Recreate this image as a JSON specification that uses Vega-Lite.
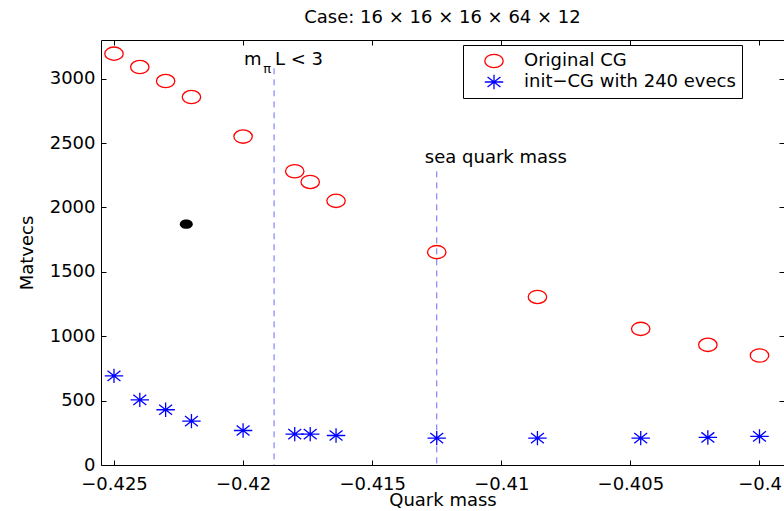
{
  "$schema": "https://vega.github.io/schema/vega-lite/v6.json",
  "width": 683,
  "height": 425,
  "autosize": {"type": "none"},
  "padding": {"left": 101, "top": 40, "right": 0, "bottom": 46},
  "title": {"text": "Case: 16 × 16 × 16 × 64 × 12", "fontSize": 18, "fontWeight": "normal", "baseline": "alphabetic", "offset": -1, "anchor": "middle", "font": "DejaVu Sans", "color": "#000"},
  "config": {
    "font": "DejaVu Sans",
    "view": {"stroke": null},
    "axis": {"grid": false, "domainColor": "#000", "tickColor": "#000", "labelColor": "#000", "titleColor": "#000", "labelFontSize": 18, "titleFontSize": 18, "titleFontWeight": "normal", "labelFont": "DejaVu Sans", "titleFont": "DejaVu Sans", "tickWidth": 1, "domainWidth": 1},
    "legend": {"orient": "none", "legendX": 362, "legendY": 5, "padding": 6, "strokeColor": "#000", "fillColor": "#fff", "cornerRadius": 0, "labelFontSize": 18, "labelFont": "DejaVu Sans", "labelColor": "#000", "labelLimit": 400, "symbolSize": 340, "symbolStrokeWidth": 1.3, "symbolOffset": 15, "labelOffset": 20, "rowPadding": 1}
  },
  "resolve": {"axis": {"x": "independent", "y": "independent"}},
  "layer": [
    {
      "data": {"values": [{"mass": -0.4188, "top": 3080}, {"mass": -0.4125, "top": 2280}]},
      "mark": {"type": "rule", "strokeDash": [6, 5], "color": "#6b6bff", "strokeWidth": 1},
      "encoding": {
        "x": {"field": "mass", "type": "quantitative", "scale": {"domain": [-0.425503, -0.399051], "nice": false, "zero": false}, "axis": null},
        "y": {"field": "top", "type": "quantitative", "scale": {"domain": [0, 3300], "nice": false}, "axis": null},
        "y2": {"datum": 0}
      }
    },
    {
      "data": {"values": [
        {"series": "Original CG", "mass": -0.425, "matvecs": 3194},
        {"series": "Original CG", "mass": -0.424, "matvecs": 3090},
        {"series": "Original CG", "mass": -0.423, "matvecs": 2981},
        {"series": "Original CG", "mass": -0.422, "matvecs": 2857},
        {"series": "Original CG", "mass": -0.42, "matvecs": 2550},
        {"series": "Original CG", "mass": -0.418, "matvecs": 2281},
        {"series": "Original CG", "mass": -0.4174, "matvecs": 2198},
        {"series": "Original CG", "mass": -0.4164, "matvecs": 2051},
        {"series": "Original CG", "mass": -0.4125, "matvecs": 1653},
        {"series": "Original CG", "mass": -0.4086, "matvecs": 1305},
        {"series": "Original CG", "mass": -0.4046, "matvecs": 1057},
        {"series": "Original CG", "mass": -0.402, "matvecs": 933},
        {"series": "Original CG", "mass": -0.4, "matvecs": 850},
        {"series": "init−CG with 240 evecs", "mass": -0.425, "matvecs": 692},
        {"series": "init−CG with 240 evecs", "mass": -0.424, "matvecs": 506},
        {"series": "init−CG with 240 evecs", "mass": -0.423, "matvecs": 429},
        {"series": "init−CG with 240 evecs", "mass": -0.422, "matvecs": 341},
        {"series": "init−CG with 240 evecs", "mass": -0.42, "matvecs": 268},
        {"series": "init−CG with 240 evecs", "mass": -0.418, "matvecs": 240},
        {"series": "init−CG with 240 evecs", "mass": -0.4174, "matvecs": 240},
        {"series": "init−CG with 240 evecs", "mass": -0.4164, "matvecs": 229},
        {"series": "init−CG with 240 evecs", "mass": -0.4125, "matvecs": 209},
        {"series": "init−CG with 240 evecs", "mass": -0.4086, "matvecs": 209},
        {"series": "init−CG with 240 evecs", "mass": -0.4046, "matvecs": 209},
        {"series": "init−CG with 240 evecs", "mass": -0.402, "matvecs": 214},
        {"series": "init−CG with 240 evecs", "mass": -0.4, "matvecs": 222}
      ]},
      "mark": {"type": "point", "filled": false, "size": 340, "strokeWidth": 1.3, "opacity": 1},
      "encoding": {
        "x": {"field": "mass", "type": "quantitative", "scale": {"domain": [-0.425503, -0.399051], "nice": false, "zero": false},
          "axis": {"orient": "bottom", "values": [-0.425, -0.42, -0.415, -0.41, -0.405, -0.4], "format": ".3~f", "title": "Quark mass", "tickSize": -5, "labelPadding": 15, "labelDx": -6, "titleY": 40, "titleBaseline": "alphabetic"}},
        "y": {"field": "matvecs", "type": "quantitative", "scale": {"domain": [0, 3300], "nice": false},
          "axis": {"orient": "left", "values": [0, 500, 1000, 1500, 2000, 2500, 3000], "format": "d", "title": "Matvecs", "tickSize": -5, "labelPadding": 11, "titleX": -69, "titleBaseline": "alphabetic"}},
        "color": {"field": "series", "type": "nominal", "scale": {"domain": ["Original CG", "init−CG with 240 evecs"], "range": ["#ff0000", "#0000ff"]}, "legend": {"title": null}},
        "shape": {"field": "series", "type": "nominal", "scale": {"domain": ["Original CG", "init−CG with 240 evecs"], "range": ["M1,0C1,0.3977,0.5523,0.72,0,0.72C-0.5523,0.72,-1,0.3977,-1,0C-1,-0.3977,-0.5523,-0.72,0,-0.72C0.5523,-0.72,1,-0.3977,1,0Z", "M-1,0L1,0M0,-0.78L0,0.78M-0.7,-0.55L0.7,0.55M-0.7,0.55L0.7,-0.55"]}, "legend": {"title": null}}
      }
    },
    {
      "data": {"values": [{"mass": -0.4222, "matvecs": 1870}]},
      "mark": {"type": "point", "filled": true, "size": 169, "color": "#000", "opacity": 1, "shape": "M1,0C1,0.3977,0.5523,0.72,0,0.72C-0.5523,0.72,-1,0.3977,-1,0C-1,-0.3977,-0.5523,-0.72,0,-0.72C0.5523,-0.72,1,-0.3977,1,0Z"},
      "encoding": {
        "x": {"field": "mass", "type": "quantitative", "scale": {"domain": [-0.425503, -0.399051], "nice": false, "zero": false},
          "axis": {"orient": "top", "values": [-0.425, -0.42, -0.415, -0.41, -0.405, -0.4], "labels": false, "title": null, "tickSize": -5}},
        "y": {"field": "matvecs", "type": "quantitative", "scale": {"domain": [0, 3300], "nice": false},
          "axis": {"orient": "right", "values": [0, 500, 1000, 1500, 2000, 2500, 3000], "labels": false, "title": null, "tickSize": -5, "domain": false}}
      }
    },
    {
      "data": {"values": [
        {"label": "m", "mass": -0.419965, "matvecs": 3103},
        {"label": "L < 3", "mass": -0.418765, "matvecs": 3103},
        {"label": "sea quark mass", "mass": -0.41296, "matvecs": 2346}
      ]},
      "mark": {"type": "text", "align": "left", "baseline": "alphabetic", "fontSize": 18, "color": "#000", "font": "DejaVu Sans"},
      "encoding": {
        "x": {"field": "mass", "type": "quantitative", "axis": null},
        "y": {"field": "matvecs", "type": "quantitative", "axis": null},
        "text": {"field": "label"}
      }
    },
    {
      "data": {"values": [{"label": "π", "mass": -0.419218, "matvecs": 3041}]},
      "mark": {"type": "text", "align": "left", "baseline": "alphabetic", "fontSize": 13, "color": "#000", "font": "DejaVu Sans"},
      "encoding": {
        "x": {"field": "mass", "type": "quantitative", "axis": null},
        "y": {"field": "matvecs", "type": "quantitative", "axis": null},
        "text": {"field": "label"}
      }
    }
  ]
}
